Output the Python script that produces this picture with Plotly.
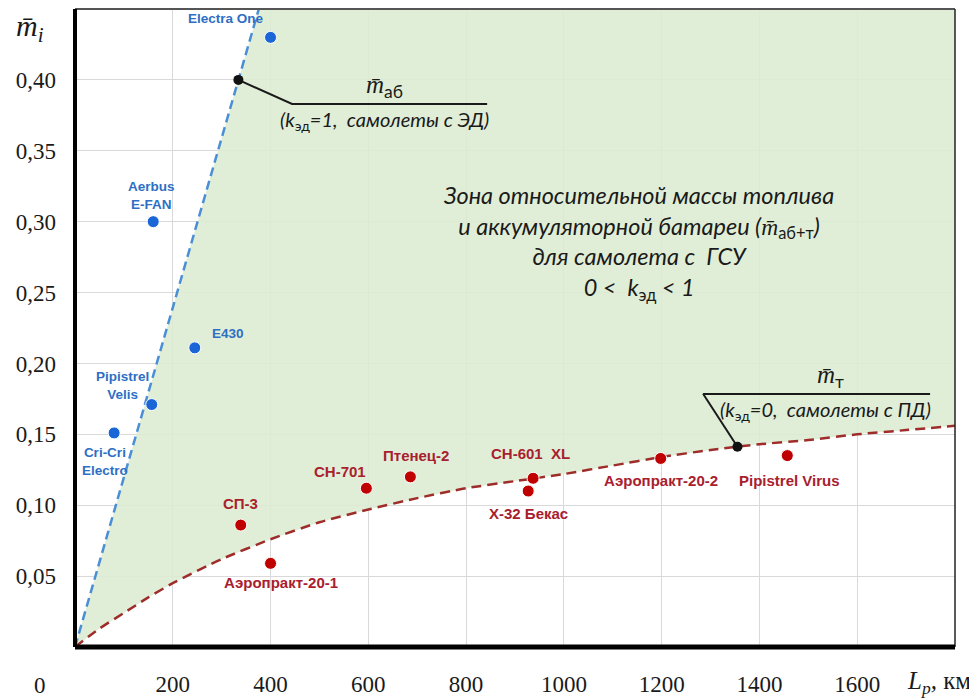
import numpy as np
import plotly.graph_objects as go

# ---------------- data ----------------
X_MAX = 1800
Y_MAX = 0.45

x_ticks = [200, 400, 600, 800, 1000, 1200, 1400, 1600]
y_ticks = [0.05, 0.10, 0.15, 0.20, 0.25, 0.30, 0.35, 0.40]
y_tick_text = ["0,05", "0,10", "0,15", "0,20", "0,25", "0,30", "0,35", "0,40"]

# boundary k_эд = 1 (electric aircraft)
blue_line_x = [0, 376]
blue_line_y = [0, 0.45]

# boundary k_эд = 0 (fuel aircraft)
red_curve_x = [0, 50, 100, 150, 200, 300, 400, 500, 600, 700, 800, 900, 1000,
               1100, 1200, 1300, 1400, 1500, 1600, 1700, 1800]
red_curve_y = [0, 0.013, 0.024, 0.035, 0.045, 0.062, 0.076, 0.088, 0.097, 0.105,
               0.112, 0.117, 0.122, 0.128, 0.134, 0.139, 0.143, 0.146, 0.150,
               0.153, 0.156]

electric_names = ["Electra One", "Aerbus<br>E-FAN", "E430", "Pipistrel<br>Velis",
                  "Cri-Cri<br>Electro"]
electric_x = [400, 160, 245, 157, 80]
electric_y = [0.430, 0.300, 0.211, 0.171, 0.151]

fuel_names = ["СП-3", "Аэропракт-20-1", "СН-701", "Птенец-2", "СН-601  XL",
              "Х-32 Бекас", "Аэропракт-20-2", "Pipistrel Virus"]
fuel_x = [339, 400, 596, 686, 937, 927, 1198, 1457]
fuel_y = [0.086, 0.059, 0.112, 0.120, 0.119, 0.110, 0.133, 0.135]

# annotation anchors (on the boundaries)
ab_anchor_y = 0.40
t_anchor_x = 1355

# ---------------- styles ----------------
electric_label_shift = [(-45, 19), (-2, 26), (33, 14), (-29, 19), (-9, -29)]
fuel_label_shift = [(0, 22), (10, -19), (-26, 17), (6, 21), (-3, 25),
                    (0, -22), (0, -22), (2, -25)]

BLUE_DOT = "#1a66d6"
BLUE_TXT = "#2e6fc4"
RED_DOT = "#c00000"
RED_TXT = "#a8202e"
BLUE_LINE = "#4a8fd6"
RED_LINE = "#9e2d2a"
FILL = "rgba(221,236,210,0.88)"
GRID = "#d9d9d9"
SERIF = "Liberation Serif"
SANS = "Liberation Sans"
ITAL = "Lato"

fig = go.Figure()

# green zone
poly_x = list(blue_line_x) + [X_MAX] + list(red_curve_x[::-1])
poly_y = list(blue_line_y) + [Y_MAX] + list(red_curve_y[::-1])
fig.add_trace(go.Scatter(x=poly_x, y=poly_y, fill="toself", fillcolor=FILL,
                         mode="none", hoverinfo="skip", showlegend=False))

# boundaries
fig.add_trace(go.Scatter(x=blue_line_x, y=blue_line_y, mode="lines",
                         line=dict(color=BLUE_LINE, width=2.5, dash="9px,5px"),
                         showlegend=False))
fig.add_trace(go.Scatter(x=red_curve_x, y=red_curve_y, mode="lines",
                         line=dict(color=RED_LINE, width=2.5, dash="10px,6px",
                                   shape="spline", smoothing=0.6),
                         showlegend=False))

# leader lines
ab_anchor_x = float(np.interp(ab_anchor_y, blue_line_y, blue_line_x))
t_anchor_y = float(np.interp(t_anchor_x, red_curve_x, red_curve_y))
fig.add_trace(go.Scatter(x=[ab_anchor_x, 444, 843], y=[ab_anchor_y, 0.383, 0.383],
                         mode="lines", line=dict(color="#1a1a1a", width=2),
                         showlegend=False))
fig.add_trace(go.Scatter(x=[t_anchor_x, 1285, 1749], y=[t_anchor_y, 0.1784, 0.1784],
                         mode="lines", line=dict(color="#1a1a1a", width=2),
                         showlegend=False))
fig.add_trace(go.Scatter(x=[ab_anchor_x, t_anchor_x], y=[ab_anchor_y, t_anchor_y],
                         mode="markers", marker=dict(color="#111111", size=10),
                         showlegend=False))

# aircraft points
fig.add_trace(go.Scatter(x=electric_x, y=electric_y, mode="markers",
                         marker=dict(color=BLUE_DOT, size=12,
                                     line=dict(color="white", width=1)),
                         showlegend=False))
fig.add_trace(go.Scatter(x=fuel_x, y=fuel_y, mode="markers",
                         marker=dict(color=RED_DOT, size=12,
                                     line=dict(color="white", width=1)),
                         showlegend=False))

ann = []
for n, x, y, (dx, dy) in zip(electric_names, electric_x, electric_y, electric_label_shift):
    ann.append(dict(x=x, y=y, text=n, showarrow=False, xshift=dx, yshift=dy,
                    font=dict(family=SANS, size=13.5, color=BLUE_TXT, weight="bold"),
                    align="center"))
for n, x, y, (dx, dy) in zip(fuel_names, fuel_x, fuel_y, fuel_label_shift):
    ann.append(dict(x=x, y=y, text=n, showarrow=False, xshift=dx, yshift=dy,
                    font=dict(family=SANS, size=15, color=RED_TXT, weight="bold"),
                    align="center"))

MBAR = "<span style='font-family:Liberation Serif;font-style:italic'>m\u0304</span>"

# m_аб annotation
ann.append(dict(x=634, y=0.383, yanchor="bottom", yshift=0, showarrow=False,
                text=MBAR + "<sub>аб</sub>",
                font=dict(family=ITAL, size=25, color="#1a1a1a")))
ann.append(dict(x=634, y=0.383, yanchor="top", yshift=-1, showarrow=False,
                text="<i>(k</i><sub>эд</sub><i>=1,  самолеты с ЭД)</i>",
                font=dict(family=ITAL, size=20, color="#1a1a1a")))
# m_т annotation
ann.append(dict(x=1545, y=0.1784, yanchor="bottom", showarrow=False,
                text=MBAR + "<sub>т</sub>",
                font=dict(family=ITAL, size=25, color="#1a1a1a")))
ann.append(dict(x=1535, y=0.1784, yanchor="top", yshift=-1, showarrow=False,
                text="<i>(k</i><sub>эд</sub><i>=0,  самолеты с ПД)</i>",
                font=dict(family=ITAL, size=20, color="#1a1a1a")))

# zone text
ann.append(dict(x=1152, y=0.285, showarrow=False, align="center",
                text=("<i>Зона относительной массы топлива</i><br>"
                      "<i>и аккумуляторной батареи (</i>" + MBAR + "<sub>аб+т</sub><i>)</i><br>"
                      "<i>для самолета с  ГСУ</i><br>"
                      "<i>0 <  k</i><sub>эд</sub><i> < 1</i>"),
                font=dict(family=ITAL, size=23.5, color="#1a1a1a")))

# axis titles / origin label
ann.append(dict(xref="paper", yref="paper", x=-0.040, y=-0.061, showarrow=False,
                xanchor="center", yanchor="middle",
                text="0", font=dict(family=SERIF, size=23, color="#1a1a1a")))
ann.append(dict(xref="paper", yref="paper", x=1.02, y=-0.056, xanchor="right",
                yanchor="middle", showarrow=False,
                text="<i>L<sub>p</sub>,</i> км",
                font=dict(family=SERIF, size=25, color="#1a1a1a")))
ann.append(dict(xref="paper", yref="paper", x=-0.051, y=0.971, showarrow=False,
                xanchor="center", yanchor="middle",
                text="<i>m\u0304<sub>i</sub></i>",
                font=dict(family=SERIF, size=30, color="#1a1a1a")))

shapes = [
    dict(type="line", xref="paper", yref="paper", x0=0, x1=1, y0=1, y1=1,
         line=dict(color="#555555", width=2), layer="above"),
    dict(type="line", xref="paper", yref="paper", x0=1, x1=1, y0=0, y1=1,
         line=dict(color="#222222", width=1.5), layer="above"),
    dict(type="line", xref="paper", yref="paper", x0=0, x1=0, y0=0, y1=1,
         line=dict(color="#000000", width=4), layer="above"),
    dict(type="line", xref="paper", yref="paper", x0=0, x1=1, y0=0, y1=0,
         line=dict(color="#000000", width=5), layer="above"),
]

# the page body adds an 8 px offset, so the figure is sized to fit the window
fig.update_layout(
    width=969, height=693,
    margin=dict(l=67, r=22, t=1, b=54, autoexpand=False),
    plot_bgcolor="white", paper_bgcolor="white",
    showlegend=False,
    annotations=ann, shapes=shapes,
    xaxis=dict(range=[0, X_MAX], tickvals=x_ticks, ticktext=[str(v) for v in x_ticks],
               showgrid=True, gridcolor=GRID, gridwidth=1, zeroline=False,
               showline=False, ticks="", ticklabelstandoff=21, automargin=False,
               tickfont=dict(family=SERIF, size=23, color="#1a1a1a")),
    yaxis=dict(range=[0, Y_MAX], tickvals=y_ticks, ticktext=y_tick_text,
               showgrid=True, gridcolor=GRID, gridwidth=1, zeroline=False,
               showline=False, ticks="", ticklabelstandoff=18, automargin=False,
               tickfont=dict(family=SERIF, size=23, color="#1a1a1a")),
)

fig.write_html("out.html")
